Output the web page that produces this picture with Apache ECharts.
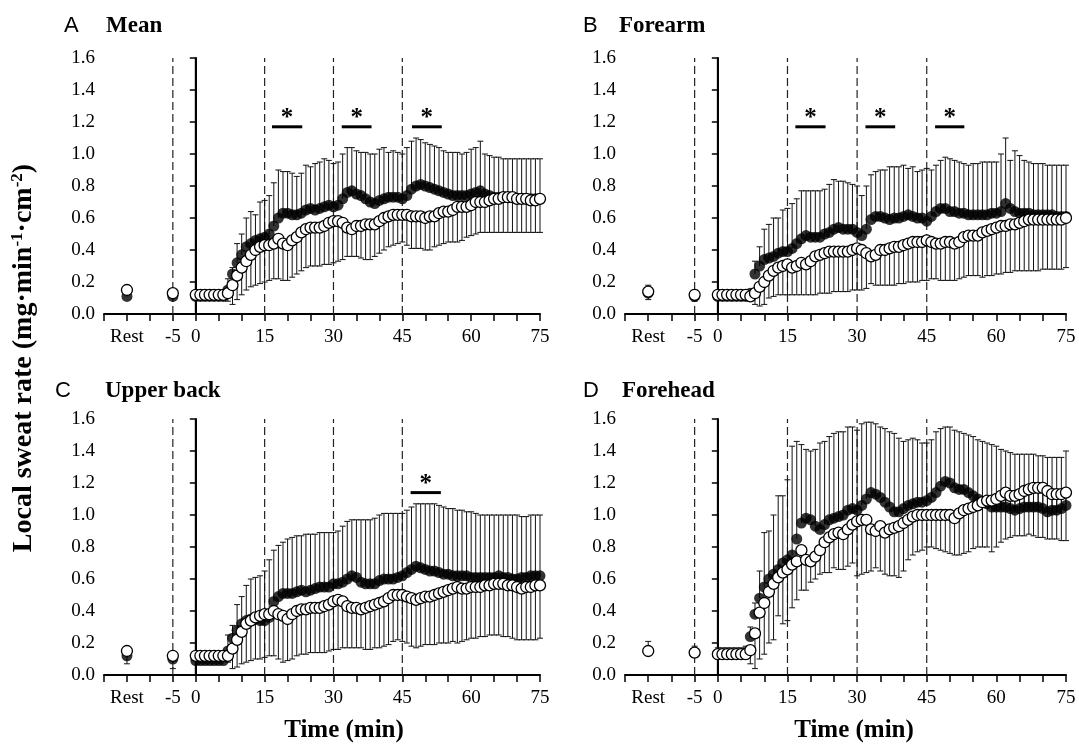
<!DOCTYPE html>
<html>
<head>
<meta charset="utf-8">
<title>Local sweat rate</title>
<script src="https://cdn.jsdelivr.net/npm/echarts@6/dist/echarts.min.js"></script>
<style>
  html, body { margin: 0; padding: 0; background: #fff; }
  #main { width: 1079px; height: 746px; }
</style>
</head>
<body>
<div id="main"></div>
<script>
// Rest is drawn at -15 on the time axis, then -5 and every minute 0..75
var times = [-15, -5,
  0, 1, 2, 3, 4, 5, 6, 7, 8, 9, 10, 11, 12, 13, 14, 15, 16, 17, 18, 19,
  20, 21, 22, 23, 24, 25, 26, 27, 28, 29, 30, 31, 32, 33, 34, 35, 36, 37, 38, 39,
  40, 41, 42, 43, 44, 45, 46, 47, 48, 49, 50, 51, 52, 53, 54, 55, 56, 57, 58, 59,
  60, 61, 62, 63, 64, 65, 66, 67, 68, 69, 70, 71, 72, 73, 74, 75];

var xTickValues = [-15, -5, 0, 15, 30, 45, 60, 75];
var xTickText = ["Rest", "-5", "0", "15", "30", "45", "60", "75"];
var dashedTimes = [-5, 15, 30, 45];
var solidTimes = [0];

// A  Mean
var filledA = [.11, .11,
  .11, .11, .11, .11, .11, .11, .11, .15, .25, .32,
  .37, .42, .44, .46, .47, .48, .50, .55, .60, .63,
  .63, .62, .62, .63, .65, .66, .65, .66, .67, .68,
  .67, .68, .72, .76, .77, .75, .74, .72, .70, .69,
  .71, .72, .73, .73, .73, .72, .74, .78, .80, .81,
  .80, .79, .78, .77, .76, .75, .74, .74, .74, .74,
  .75, .76, .77, .75, .74, .73, .73, .73, .73, .73,
  .72, .72, .72, .72, .72, .72];
var filledTopA = [.12, .12,
  .12, .12, .12, .12, .12, .12, .12, .22, .29, .44,
  .50, .60, .64, .62, .70, .71, .74, .82, .90, .89,
  .89, .88, .86, .88, .93, .92, .94, .95, .97, .96,
  .94, .95, 1.00, 1.04, 1.04, 1.02, 1.01, 1.01, 1.00, 1.00,
  1.03, 1.04, 1.01, 1.02, 1.01, 1.00, 1.04, 1.08, 1.10, 1.09,
  1.07, 1.06, 1.05, 1.04, 1.02, 1.01, 1.01, 1.01, 1.00, 1.01,
  1.03, 1.04, 1.08, 1.00, .99, .98, .98, .97, .97, .97,
  .97, .97, .97, .97, .97, .97];
var openA = [.15, .13,
  .12, .12, .12, .12, .12, .12, .12, .13, .18, .24,
  .29, .33, .37, .40, .42, .43, .43, .44, .47, .44,
  .43, .46, .48, .51, .53, .54, .54, .54, .55, .57,
  .58, .58, .57, .54, .53, .55, .55, .56, .56, .56,
  .58, .60, .61, .62, .62, .62, .62, .61, .61, .61,
  .60, .61, .61, .63, .64, .64, .65, .67, .67, .67,
  .68, .70, .70, .70, .71, .72, .72, .73, .73, .73,
  .72, .72, .72, .71, .71, .72];
var openLowA = [.14, .12,
  .11, .11, .11, .11, .11, .11, .11, .08, .06, .09,
  .12, .15, .17, .18, .19, .20, .21, .22, .22, .21,
  .21, .23, .25, .27, .29, .30, .30, .30, .31, .31,
  .32, .33, .34, .36, .36, .36, .35, .34, .34, .36,
  .38, .40, .42, .43, .44, .45, .43, .41, .41, .41,
  .40, .40, .42, .43, .44, .45, .45, .45, .46, .48,
  .49, .50, .51, .51, .51, .51, .51, .51, .51, .51,
  .51, .51, .51, .51, .51, .51];

// B  Forearm
var filledB = [.13, .11,
  .11, .11, .11, .11, .11, .11, .11, .13, .25, .30,
  .34, .35, .36, .38, .39, .39, .41, .44, .47, .49,
  .48, .48, .48, .50, .51, .53, .54, .53, .53, .53,
  .51, .49, .53, .59, .61, .61, .60, .59, .60, .60,
  .61, .62, .61, .60, .60, .58, .61, .64, .66, .66,
  .64, .64, .63, .63, .62, .62, .62, .62, .62, .63,
  .63, .64, .69, .66, .64, .63, .63, .63, .62, .62,
  .62, .62, .62, .61, .61, .61];
var filledTopB = [.18, .15,
  .12, .12, .12, .12, .12, .12, .12, .14, .33, .42,
  .53, .56, .60, .60, .65, .66, .69, .72, .77, .77,
  .77, .77, .77, .78, .81, .84, .83, .83, .82, .81,
  .80, .74, .80, .87, .89, .90, .90, .92, .92, .92,
  .93, .91, .92, .89, .90, .91, .90, .93, .96, .98,
  .97, .96, .95, .94, .93, .94, .94, .95, .95, .95,
  .95, 1.00, 1.10, .96, 1.02, .99, .96, .95, .94, .94,
  .94, .93, .93, .93, .93, .93];
var openB = [.14, .12,
  .12, .12, .12, .12, .12, .12, .12, .11, .13, .17,
  .20, .24, .27, .29, .30, .31, .29, .30, .32, .31,
  .33, .36, .37, .38, .39, .39, .39, .39, .39, .40,
  .41, .40, .38, .36, .37, .40, .40, .41, .42, .42,
  .43, .44, .45, .45, .45, .46, .45, .44, .44, .45,
  .45, .44, .45, .48, .49, .49, .49, .51, .52, .53,
  .54, .55, .55, .56, .56, .57, .58, .59, .59, .59,
  .59, .59, .59, .59, .59, .60];
var openLowB = [.09, .08,
  .09, .09, .09, .09, .09, .09, .09, .08, .06, .05,
  .06, .10, .11, .12, .12, .12, .12, .12, .12, .12,
  .12, .12, .13, .13, .13, .14, .14, .14, .14, .15,
  .15, .15, .16, .19, .18, .18, .18, .18, .18, .19,
  .19, .20, .20, .20, .21, .21, .22, .22, .21, .21,
  .21, .21, .22, .23, .24, .24, .24, .23, .24, .24,
  .25, .25, .26, .26, .27, .27, .27, .27, .27, .27,
  .28, .28, .28, .28, .28, .29];

// C  Upper back
var filledC = [.12, .10,
  .09, .09, .09, .09, .09, .09, .09, .15, .23, .28,
  .32, .34, .35, .35, .34, .34, .36, .46, .49, .51,
  .51, .51, .52, .53, .52, .53, .54, .55, .55, .55,
  .57, .57, .58, .60, .62, .61, .58, .57, .57, .57,
  .59, .60, .60, .60, .61, .62, .64, .66, .68, .67,
  .66, .65, .65, .64, .63, .63, .62, .62, .62, .62,
  .61, .61, .61, .61, .61, .61, .62, .61, .61, .60,
  .60, .61, .61, .62, .62, .62];
var filledTopC = [.14, .12,
  .10, .10, .10, .10, .10, .10, .10, .25, .31, .44,
  .49, .56, .60, .61, .62, .65, .72, .78, .81, .83,
  .85, .86, .87, .87, .88, .88, .88, .89, .89, .89,
  .89, .90, .93, .96, .97, .97, .97, .97, .97, .98,
  1.00, 1.01, 1.01, 1.01, 1.01, 1.01, 1.03, 1.05, 1.07, 1.07,
  1.07, 1.07, 1.07, 1.06, 1.05, 1.04, 1.04, 1.03, 1.03, 1.02,
  1.02, 1.01, 1.00, 1.00, 1.00, 1.00, 1.00, 1.00, 1.00, 1.00,
  1.00, .99, .99, 1.00, 1.00, 1.00];
var openC = [.15, .12,
  .12, .12, .12, .12, .12, .12, .12, .12, .165, .22,
  .27, .32, .34, .36, .37, .38, .38, .40, .38, .37,
  .35, .38, .40, .41, .41, .42, .42, .42, .43, .44,
  .46, .47, .46, .43, .42, .42, .41, .42, .43, .44,
  .45, .46, .48, .50, .50, .50, .49, .48, .47, .48,
  .49, .49, .50, .51, .52, .53, .54, .55, .54, .54,
  .55, .55, .55, .56, .56, .57, .57, .57, .56, .56,
  .55, .54, .55, .55, .56, .56];
var openLowC = [.07, .04,
  .09, .09, .09, .09, .09, .09, .09, .08, .04, .05,
  .07, .08, .09, .10, .10, .11, .12, .12, .10, .08,
  .09, .10, .12, .13, .13, .14, .14, .14, .14, .15,
  .16, .16, .17, .17, .17, .17, .17, .16, .16, .17,
  .17, .18, .19, .21, .22, .21, .20, .18, .17, .18,
  .19, .19, .19, .20, .20, .20, .21, .20, .21, .22,
  .23, .23, .24, .24, .25, .25, .25, .24, .24, .23,
  .22, .22, .22, .22, .22, .23];

// D  Forehead
var filledD = [.15, .14,
  .13, .13, .13, .13, .13, .13, .14, .24, .38, .48,
  .55, .60, .63, .66, .70, .72, .75, .85, .95, .98,
  .97, .93, .91, .94, .97, .98, .99, 1.00, 1.03, 1.04,
  1.03, 1.06, 1.10, 1.14, 1.13, 1.11, 1.08, 1.05, 1.02, 1.02,
  1.04, 1.06, 1.07, 1.08, 1.08, 1.09, 1.11, 1.14, 1.18, 1.21,
  1.20, 1.17, 1.16, 1.16, 1.14, 1.12, 1.10, 1.08, 1.07, 1.05,
  1.05, 1.05, 1.05, 1.04, 1.03, 1.04, 1.05, 1.05, 1.05, 1.05,
  1.04, 1.02, 1.03, 1.03, 1.04, 1.06];
var filledTopD = [.21, .18,
  .17, .17, .17, .17, .17, .17, .18, .30, .45, .65,
  .89, .90, 1.00, 1.12, 1.12, 1.22, 1.43, 1.46, 1.44, 1.41,
  1.40, 1.41, 1.45, 1.46, 1.49, 1.51, 1.52, 1.52, 1.55, 1.55,
  1.53, 1.57, 1.58, 1.58, 1.57, 1.55, 1.54, 1.52, 1.51, 1.48,
  1.46, 1.47, 1.48, 1.47, 1.45, 1.45, 1.47, 1.52, 1.54, 1.55,
  1.55, 1.53, 1.52, 1.51, 1.50, 1.49, 1.47, 1.46, 1.45, 1.44,
  1.43, 1.41, 1.40, 1.39, 1.38, 1.38, 1.38, 1.38, 1.38, 1.37,
  1.37, 1.36, 1.36, 1.36, 1.36, 1.40];
var openD = [.15, .14,
  .13, .13, .13, .13, .13, .13, .13, .155, .26, .39,
  .45, .52, .57, .61, .64, .66, .69, .71, .78, .72,
  .71, .74, .78, .83, .86, .88, .89, .88, .91, .94,
  .96, .97, .97, .91, .90, .93, .89, .91, .92, .93,
  .95, .97, .99, 1.00, 1.00, 1.00, 1.00, 1.00, 1.00, 1.00,
  1.00, .98, 1.01, 1.03, 1.04, 1.05, 1.06, 1.08, 1.09, 1.09,
  1.10, 1.12, 1.14, 1.12, 1.12, 1.13, 1.15, 1.16, 1.17, 1.17,
  1.17, 1.15, 1.13, 1.13, 1.13, 1.14];
var openLowD = [.12, .11,
  .10, .10, .10, .10, .10, .10, .10, .07, .04, .10,
  .13, .20, .22, .37, .32, .34, .42, .47, .53, .53,
  .58, .60, .63, .64, .64, .67, .66, .66, .68, .70,
  .62, .63, .64, .65, .67, .65, .63, .62, .62, .61,
  .65, .72, .75, .77, .78, .80, .80, .79, .78, .77,
  .76, .75, .75, .76, .77, .79, .80, .80, .80, .77,
  .80, .83, .85, .86, .87, .87, .87, .88, .87, .86,
  .86, .85, .85, .85, .84, .84];

// significance bars (start, end in min) and their height
var sigStartA = [16.6, 31.8, 47.1], sigEndA = [23.2, 38.3, 53.6], sigLevelA = 1.17;
var sigStartB = [16.7, 31.8, 46.8], sigEndB = [23.2, 38.2, 53.1], sigLevelB = 1.17;
var sigStartC = [46.8], sigEndC = [53.4], sigLevelC = 1.14;
var sigStartD = [], sigEndD = [], sigLevelD = 1.17;

var SERIF = "'Liberation Serif', 'Times New Roman', serif";
var SANS = "'Liberation Sans', Arial, sans-serif";

var chart = echarts.init(document.getElementById("main"));

var panels = [
  { filled: filledA, top: filledTopA, open: openA, low: openLowA, s0: sigStartA, s1: sigEndA, sl: sigLevelA },
  { filled: filledB, top: filledTopB, open: openB, low: openLowB, s0: sigStartB, s1: sigEndB, sl: sigLevelB },
  { filled: filledC, top: filledTopC, open: openC, low: openLowC, s0: sigStartC, s1: sigEndC, sl: sigLevelC },
  { filled: filledD, top: filledTopD, open: openD, low: openLowD, s0: sigStartD, s1: sigEndD, sl: sigLevelD }
];

var grids = [
  { left: 104, top: 58, width: 436, height: 256 },
  { left: 625, top: 58, width: 441, height: 256 },
  { left: 104, top: 419, width: 436, height: 256 },
  { left: 625, top: 419, width: 441, height: 256 }
];

function xLabel(v) {
  var i = xTickValues.indexOf(v);
  return i < 0 ? "" : xTickText[i];
}

function errorSeries(i, means, ends) {
  return {
    type: "custom", xAxisIndex: i, yAxisIndex: i, z: 2, silent: true,
    encode: { x: 0, y: [1, 2] },
    data: times.map(function (t, k) { return [t, means[k], ends[k]]; }),
    renderItem: function (params, api) {
      var a = api.coord([api.value(0), api.value(1)]);
      var b = api.coord([api.value(0), api.value(2)]);
      var st = { stroke: "#111", lineWidth: 1 };
      return {
        type: "group",
        children: [
          { type: "line", shape: { x1: a[0], y1: a[1], x2: b[0], y2: b[1] }, style: st },
          { type: "line", shape: { x1: b[0] - 3, y1: b[1], x2: b[0] + 3, y2: b[1] }, style: st }
        ]
      };
    }
  };
}

function vLineSeries(i, list, dashed) {
  return {
    type: "custom", xAxisIndex: i, yAxisIndex: i, z: 1, silent: true,
    data: list.map(function (t) { return [t]; }),
    renderItem: function (params, api) {
      var a = api.coord([api.value(0), 0]);
      var b = api.coord([api.value(0), 1.6]);
      return {
        type: "line",
        shape: { x1: a[0], y1: a[1], x2: b[0], y2: b[1] },
        style: { stroke: dashed ? "#222" : "#000", lineWidth: dashed ? 1.2 : 2, lineDash: dashed ? [8, 4] : null }
      };
    }
  };
}

function sigSeries(i, p) {
  return {
    type: "custom", xAxisIndex: i, yAxisIndex: i, z: 4, silent: true,
    data: p.s0.map(function (s, k) { return [s, p.s1[k], p.sl]; }),
    renderItem: function (params, api) {
      var a = api.coord([api.value(0), api.value(2)]);
      var b = api.coord([api.value(1), api.value(2)]);
      return {
        type: "group",
        children: [
          { type: "line", shape: { x1: a[0], y1: a[1], x2: b[0], y2: b[1] }, style: { stroke: "#000", lineWidth: 3 } },
          { type: "text", x: (a[0] + b[0]) / 2, y: a[1] - 8,
            style: { text: "*", fill: "#000", font: "bold 25px " + SERIF, align: "center", verticalAlign: "middle" } }
        ]
      };
    }
  };
}

var xAxes = [], yAxes = [], series = [];
panels.forEach(function (p, i) {
  xAxes.push({
    type: "value", gridIndex: i, min: -20, max: 75, interval: 5,
    axisLine: { show: true, onZero: false, lineStyle: { color: "#000", width: 2 } },
    axisTick: { show: true, inside: false, length: 7, lineStyle: { color: "#000", width: 1.5 } },
    axisLabel: { formatter: xLabel, color: "#000", fontFamily: SERIF, fontSize: 19, margin: 14 },
    splitLine: { show: false }
  });
  yAxes.push({
    type: "value", gridIndex: i, min: 0, max: 1.6, interval: 0.2,
    axisLine: { show: true, lineStyle: { color: "#000", width: 2 } },
    axisTick: { show: true, inside: false, length: 6, lineStyle: { color: "#000", width: 1.5 } },
    axisLabel: { formatter: function (v) { return v.toFixed(1); }, color: "#000", fontFamily: SERIF, fontSize: 19, margin: 9 },
    splitLine: { show: false }
  });
  series.push(vLineSeries(i, dashedTimes, true));
  series.push(vLineSeries(i, solidTimes, false));
  series.push(errorSeries(i, p.filled, p.top));
  series.push(errorSeries(i, p.open, p.low));
  series.push({
    type: "scatter", xAxisIndex: i, yAxisIndex: i, z: 3, silent: true,
    symbol: "circle", symbolSize: 11,
    itemStyle: { color: "#000" },
    data: times.map(function (t, k) { return [t, p.filled[k]]; })
  });
  series.push({
    type: "scatter", xAxisIndex: i, yAxisIndex: i, z: 4, silent: true,
    symbol: "circle", symbolSize: 11,
    itemStyle: { color: "#fff", borderColor: "#000", borderWidth: 1.3, opacity: 1 },
    data: times.map(function (t, k) { return [t, p.open[k]]; })
  });
  series.push(sigSeries(i, p));
});

function label(x, y, text, font) {
  return { type: "text", x: x, y: y,
    style: { text: text, font: font, fill: "#000", align: "left", verticalAlign: "middle" } };
}

var graphics = [
  label(64, 26, "A", "22px " + SANS),
  label(106, 26, "Mean", "bold 23px " + SERIF),
  label(583, 26, "B", "22px " + SANS),
  label(619, 26, "Forearm", "bold 23px " + SERIF),
  label(55, 391, "C", "22px " + SANS),
  label(105, 391, "Upper back", "bold 23px " + SERIF),
  label(583, 391, "D", "22px " + SANS),
  label(622, 391, "Forehead", "bold 23px " + SERIF),
  { type: "text", x: 344, y: 731,
    style: { text: "Time (min)", font: "bold 25px " + SERIF, fill: "#000", align: "center", verticalAlign: "middle" } },
  { type: "text", x: 854, y: 731,
    style: { text: "Time (min)", font: "bold 25px " + SERIF, fill: "#000", align: "center", verticalAlign: "middle" } },
  { type: "text", x: 24, y: 358, rotation: Math.PI / 2,
    style: {
      text: "{b|Local sweat rate (mg·min}{s|-1}{b|·cm}{s|-2}{b|)}",
      align: "center", verticalAlign: "middle", fill: "#000",
      rich: {
        b: { fontFamily: SERIF, fontWeight: "bold", fontSize: 28, lineHeight: 30, fill: "#000" },
        s: { fontFamily: SERIF, fontWeight: "bold", fontSize: 17, lineHeight: 30, verticalAlign: "top", fill: "#000" }
      }
    } }
];

var option = {
  animation: false,
  backgroundColor: "#fff",
  grid: grids,
  xAxis: xAxes,
  yAxis: yAxes,
  series: series,
  graphic: graphics
};

option && chart.setOption(option);
</script>
</body>
</html>
